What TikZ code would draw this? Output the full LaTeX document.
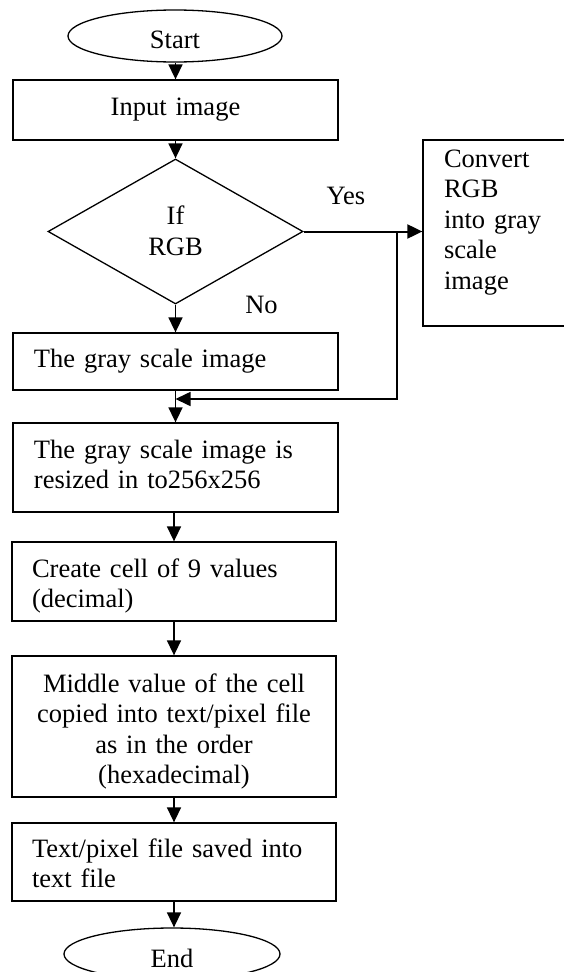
\documentclass[tikz,border=0pt]{standalone}
\usepackage{fontspec}
\setmainfont{Liberation Serif}
\usetikzlibrary{shapes.geometric,arrows.meta}

\begin{document}
\begin{tikzpicture}[x=1pt, y=-1pt,
  every node/.style={font=\fontsize{26.5}{30.5}\selectfont},
  term/.style={draw, ellipse, line width=1.3pt, minimum height=52pt, inner sep=0pt},
  box/.style={draw, rectangle, line width=1.3pt, inner xsep=21pt, inner ysep=0pt},
  decision/.style={draw, diamond, line width=1.3pt, minimum width=255pt,
    minimum height=145pt, inner sep=0pt, text width=60pt, align=center},
  arr/.style={-{Triangle[length=15pt,width=14pt]}, line width=1.6pt}
]
\useasboundingbox (0,0) rectangle (563,972);

% terminals, steps and the decision
\node[term, minimum width=214pt, text height=24pt, text depth=0pt] (start) at (175,36) {Start};
\node[box, minimum width=325pt, minimum height=60pt, text width=283pt, align=center,
  text height=20pt, text depth=10pt] (input) at (175.5,110) {Input image};
\node[decision, text height=10pt, text depth=24pt] (dia) at (175.5,231.5) {If\\RGB};
\node[box, minimum width=142pt, minimum height=186pt, text width=100pt, align=left,
  text height=10pt, text depth=142pt] (conv) at (494,233) {Convert\\RGB\\into gray\\scale\\image};
\node[box, minimum width=325pt, minimum height=57pt, text width=283pt, align=left,
  text height=20pt, text depth=9pt] (gray) at (175.5,361.5) {The gray scale image};
\node[box, minimum width=325pt, minimum height=89pt, text width=283pt, align=left,
  text height=10pt, text depth=29pt] (resized) at (175.5,467.5) {The gray scale image is\\resized in to256x256};
\node[box, inner xsep=20pt, minimum width=324pt, minimum height=79pt, text width=284pt, align=left,
  text height=10pt, text depth=19pt] (create) at (174,581.5) {Create cell of 9 values\\(decimal)};
\node[box, inner xsep=20pt, minimum width=324pt, minimum height=141pt, text width=284pt, align=center,
  text height=10pt, text depth=79pt] (middle) at (174,726.5) {Middle value of the cell\\copied into text/pixel file\\as in the order\\(hexadecimal)};
\node[box, inner xsep=20pt, minimum width=324pt, minimum height=78pt, text width=284pt, align=left,
  text height=10pt, text depth=20pt] (save) at (174,862) {Text/pixel file saved into\\text file};
\node[term, minimum width=216pt, text height=26pt, text depth=0pt] (end) at (172,954) {End};

% branch labels
\node[anchor=base] (yes) at (346,204) {Yes};
\node[anchor=base] (no) at (261.5,313) {No};

% connectors
\draw[arr] (input.north |- start.south) -- (input.north);
\draw[arr] (input.south) -- (dia.north);
\draw[arr] (dia.south) -- (gray.north);
\draw[arr] (gray.south) -- (resized.north);
\draw[arr] (create.north |- resized.south) -- (create.north);
\draw[arr] (create.south) -- (middle.north);
\draw[arr] (middle.south) -- (save.north);
\draw[arr] (save.south) -- (save.south |- end.north);
\draw[arr, line width=2pt] (dia.east) -- (dia.east -| conv.west);

% converted image rejoins the main flow
\coordinate (split) at (397,231.5);
\coordinate (back) at (397,399);
\draw[arr] (split) -- (back) -- (gray.south |- back);
\end{tikzpicture}
\end{document}
